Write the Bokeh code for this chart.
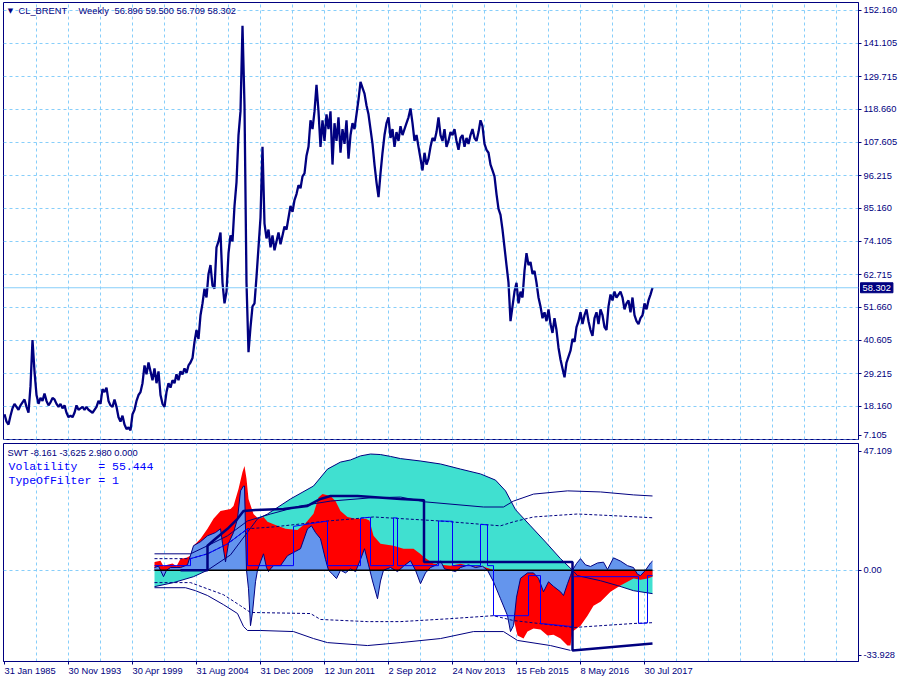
import numpy as np
from bokeh.plotting import figure
from bokeh.models import Range1d, FixedTicker, PrintfTickFormatter, Grid, Span, Label
from bokeh.layouts import column
from bokeh.embed import file_html
from bokeh.resources import INLINE

NAVY = "#000080"
GRIDC = "#87CEFA"
FONT = "Liberation Sans"
FS = "9.3px"
NB = "\u00a0"

# ---------------- data ----------------
date_bars = [0, 64, 128, 192, 256, 320, 384, 448, 512, 576, 640]
date_labels = ["31 Jan 1985", "30 Nov 1993", "30 Apr 1999", "31 Aug 2004", "31 Dec 2009",
               "12 Jun 2011", "2 Sep 2012", "24 Nov 2013", "15 Feb 2015", "8 May 2016", "30 Jul 2017"]

price_ticks = [7.105, 18.160, 29.215, 40.605, 51.660, 62.715, 74.105, 85.160, 96.215,
               107.605, 118.660, 129.715, 141.105, 152.160]

price_close = [
    15.5, 13, 12, 15, 17.5, 19, 18, 17, 18.5, 19.5,
    20.5, 18, 16, 25, 40.6, 30, 22, 19, 21, 20,
    22.5, 20, 18.5, 19.5, 21, 20.5, 19, 18, 19, 17.5,
    18.5, 16, 14.5, 15, 14.5, 16, 18.5, 17, 17.5, 18,
    17, 18, 17, 16.5, 16, 17, 18, 20, 19, 24,
    23, 24.5, 20, 18.5, 18, 20.5, 18, 14.5, 13, 15,
    12, 10.5, 11, 10, 15.5, 17, 20, 22, 23, 26,
    32, 29, 33, 30, 27, 31, 26, 30, 22, 19,
    18, 23, 26, 24.5, 27, 26, 29, 27, 30, 29,
    31, 29.5, 32, 33, 34.5, 40, 44, 41, 49, 53,
    58, 55, 63, 66, 59, 58, 72, 74, 77, 60,
    53, 57, 70, 76, 74, 86, 94, 110, 118, 147,
    120, 60, 36.5, 45, 52, 53, 62, 72, 82, 106,
    80, 75, 78, 72, 76, 71, 74, 77, 73, 76,
    79, 78, 82, 86, 84, 88, 90, 93, 92, 96,
    97, 103, 106, 115, 112, 118, 127, 118, 106, 115,
    108, 117, 112, 118, 100, 114, 108, 116, 104, 112,
    107, 115, 102, 110, 114, 112, 117, 122, 128, 126,
    124, 120, 117, 112, 107, 100, 94, 89, 97, 104,
    110, 114, 116, 109, 112, 106, 111, 108, 113, 110,
    112, 114, 116, 119, 114, 108, 110, 106, 102, 98,
    104, 100, 102, 106, 109, 108, 111, 116, 110, 108,
    112, 106, 108, 111, 110, 112, 108, 105, 109, 110,
    106, 109, 107, 110, 112, 109, 108, 111, 115, 113,
    107, 105, 104, 100, 98, 96, 90, 85, 83, 78,
    72, 66, 60, 47, 52, 57, 60, 53, 57, 55,
    64, 70, 66, 67, 63, 64, 60, 55, 52, 48,
    50, 47, 51, 46, 43, 48, 44, 38, 34, 31,
    28, 33, 35, 37, 41, 40, 45, 47, 50, 46,
    49, 51, 47, 44, 42, 48, 50, 46, 51, 49,
    45, 44, 52, 56, 54, 57, 55, 56, 57, 55,
    51, 53, 54, 50, 55, 49, 47, 46, 48, 49,
    53, 51, 54, 56, 58.302,
]
price_bar = list(range(0, 2 * len(price_close), 2))
last_close = 58.302
header_symbol = "CL_BRENT"
header_period = "Weekly"
header_ohlc = "56.896 59.500 56.709 58.302"

# SWT indicator
swt_header = "SWT -8.161 -3.625 2.980 0.000"
swt_param1 = "Volatility" + NB * 3 + "=" + NB + "55.444"
swt_param2 = "TypeOfFilter" + NB + "=" + NB + "1"
swt_top, swt_bottom = 47.109, -33.928

turq_bar = [150, 169, 189, 203, 226, 253, 263, 286, 309, 323, 336, 346, 356, 366, 376, 386, 396,
            416, 436, 456, 476, 491, 501, 511, 526, 541, 556, 568, 573, 596, 613, 629, 648]
turq_val = [-6.1, -4.6, -2.4, 0, 5.7, 19.1, 20.9, 26.5, 31.3, 37.6, 40.2, 41.0, 42.5, 43.2, 43.0, 42.3, 41.5,
            40.6, 39.5, 37.6, 35.8, 33.5, 29.5, 22.5, 16.5, 10.5, 4.3, 0, -2.0, -3.9, -5.7, -7.6, -8.7]

red_bar = [150, 156, 159, 163, 168, 172, 176, 182, 186, 189, 196, 203, 209, 216, 226, 229, 234, 238, 240,
           242, 244, 249, 254, 259, 263, 271, 281, 293, 301, 309, 314, 318, 326, 331, 336, 343, 351, 361,
           365, 369, 376, 389, 399, 409, 416, 419, 429, 436, 446, 456, 466, 479, 486, 489, 496, 504, 509,
           513, 519, 523, 529, 536, 543, 549, 556, 563, 566, 568, 576, 583, 589, 596, 606, 616, 629, 636,
           643, 648]
red_val = [3.1, 3.5, 1.5, 2.0, 2.5, 1.5, 4.3, 4.6, 5.4, 9.1, 11.7, 15.4, 19.1, 22.0, 22.8, 23.9, 30.2, 36.5, 38.7,
           34, 26.5, 20.9, 19.1, 19.8, 18.0, 16.8, 15.4, 15.0, 17.5, 21, 27.0, 28.3, 27.6, 25.7, 22.0, 19.8, 19.1, 19.1,
           18.5, 12.8, 9.8, 9.1, 8.0, 8.0, 6.0, 5.0, 2.4, 2.0, 1.7, 2.4, 1.5, 1.3, 0.5, 0, -1, -5, -18.0,
           -24.3, -25.4, -22.8, -21.7, -22.0, -24.3, -24.0, -25.4, -28.0, -28.0, -22.8, -20.6, -16.9, -13.2, -11.7,
           -8.0, -5.7, -3.1, -3.5, -3.1, -2.4]

blue_bar = [150, 154, 156, 159, 162, 166, 176, 183, 189, 196, 203, 211, 216, 218, 221, 224, 229, 233, 236, 239,
            240, 242, 244, 246, 248, 251, 253, 256, 259, 262, 264, 266, 269, 276, 283, 291, 296, 303, 307, 311,
            316, 321, 324, 328, 332, 336, 341, 346, 351, 356, 360, 364, 368, 373, 376, 379, 386, 393, 399, 406,
            411, 416, 421, 426, 432, 436, 440, 446, 451, 456, 464, 471, 478, 483, 489, 496, 503, 506, 509, 512,
            516, 523, 529, 534, 539, 544, 549, 556, 559, 563, 566, 568, 572, 576, 581, 586, 593, 599, 603, 609,
            616, 623, 629, 633, 636, 641, 646, 648]
blue_val = [1.0, 1.5, 0, -2.4, 0, 1.0, 1.0, 2.0, 9.1, 10.6, 12.8, 14.0, 15.4, 10, 3.1, 10, 14.0, 19.1, 29.5, 31.3,
            31.3, 0, -6.9, -20.6, -15.7, -4.3, 0, 3.1, 6.1, 1.0, -0.5, 0.5, 1.7, 1.7, 5.4, 7.0, 8.0, 15.4, 16.5, 14.0,
            11.7, 4.0, 0, -1.5, -3.1, 0, -1.0, 0.5, -0.5, 4.0, 8.0, 2.0, -4.0, -10.6, -4.0, 0, 1.0, -0.5, 1.5, 3.5,
            0, -5.0, -1.0, 1.0, 2.0, 3.5, 0.5, 0, -0.5, 1.0, 2.0, 1.0, 1.5, 0, -4.3, -10.6, -16.9, -22.8, -20.6, -10,
            -3, -1, -1, -3, -8, -4.3, -6, -8, -9.4, -5, -2, 0, 2.5, 4.3, 2.0, 1.4, 2.7, 3.0, 0.3, 4.6,
            3.4, 1.7, 1.0, -1.5, -2.0, 0, 2.7, 3.4]

level_bar = [176, 203, 203, 211, 223, 233, 239, 251, 279, 303, 316, 326, 353, 396, 419.5, 419.5, 568, 568, 648]
level_val = [0, 0, 9.1, 11.7, 15.4, 19.1, 22.0, 22.4, 22.8, 23.9, 26.5, 27.6, 27.6, 26.5, 26.0, 3.1, 3.1, -29.8, -27.2]

up_bar = [150, 186, 203, 223, 243, 266, 296, 326, 366, 396, 421, 479, 499, 509, 529, 563, 596, 629, 648]
up_val = [6.1, 6.1, 9.1, 12.8, 18.3, 20.9, 23.9, 25.7, 26.9, 27.2, 25.4, 23.5, 23.5, 25.7, 28.3, 29.5, 29.1, 28.0, 27.6]

upd_bar = [150, 186, 203, 223, 243, 269, 323, 349, 369, 436, 496, 509, 529, 573, 613, 648]
upd_val = [4.3, 4.3, 6.1, 9.8, 15.4, 16.1, 18.3, 19.1, 19.8, 18.3, 16.5, 18.0, 19.8, 20.9, 20.2, 19.5]

dnd_bar = [150, 186, 219, 236, 246, 306, 316, 363, 396, 446, 489, 509, 569, 629, 648]
dnd_val = [-4.6, -4.6, -9.1, -13.2, -15.7, -16.1, -18.3, -19.1, -19.1, -18.0, -16.9, -18.7, -21.3, -19.8, -19.5]

dn_bar = [150, 181, 191, 203, 219, 233, 239, 243, 256, 289, 309, 323, 363, 396, 436, 469, 499, 513, 546, 566]
dn_val = [-6.5, -6.5, -7.6, -9.4, -12.8, -16.1, -20.9, -22.4, -22.4, -22.8, -25.4, -26.9, -28.0, -26.9, -25.4,
          -22.8, -22.8, -26.1, -28.0, -29.8]

sig_bar = [150, 186, 186, 203, 223, 243, 243, 289, 289, 323, 323, 356, 356, 366, 366, 389, 389, 393, 393,
           434, 434, 448, 448, 476, 476, 483, 483, 489, 489, 524, 524, 536, 536, 569, 569, 634, 634, 643, 643, 648]
sig_val = [1.7, 1.7, 4.3, 6.1, 9.8, 15.4, 1.7, 1.7, 16.3, 18.3, 1.7, 1.7, 19.4, 19.7, 1.7, 1.7, 19.5, 19.4, 1.7,
           1.7, 18.3, 18.2, 1.7, 1.7, 17.0, 16.9, 1.7, 1.7, -16.9, -16.9, -2.0, -2.0, -19.8, -21.0, -2.4, -2.4,
           -19.8, -19.6, -2.0, -2.0]

zero_bar = [150, 648]
zero_val = [0, 0]

X_START, X_END = -1, 854
grid_bars = list(range(32, X_END, 32))
FRAME_W = 855


def style_axis(ax):
    ax.axis_line_color = NAVY
    ax.major_tick_line_color = NAVY
    ax.major_tick_out = 3
    ax.major_tick_in = 0
    ax.minor_tick_line_color = None
    ax.major_label_text_color = NAVY
    ax.major_label_text_font = FONT
    ax.major_label_text_font_size = FS
    ax.major_label_standoff = 2


def common(p):
    p.outline_line_color = NAVY
    p.outline_line_width = 1
    p.grid.visible = False
    p.background_fill_color = "white"
    p.border_fill_color = "white"


# ---------------- main panel ----------------
p1 = figure(frame_width=FRAME_W, frame_height=437, x_range=Range1d(X_START, X_END), y_range=Range1d(6.94, 154.86),
            x_axis_location=None, y_axis_location="right", output_backend="svg", toolbar_location=None,
            min_border_left=3, min_border_right=40, min_border_top=2, min_border_bottom=2)
common(p1)
ax = p1.yaxis[0]
axis_ticks = [8.46] + price_ticks[1:]
ax.ticker = FixedTicker(ticks=axis_ticks)
ax.formatter = PrintfTickFormatter(format="%.3f")
ax.major_label_overrides = {8.46: "%.3f" % price_ticks[0]}
style_axis(ax)
p1.add_layout(Grid(dimension=0, ticker=FixedTicker(ticks=grid_bars), grid_line_color=GRIDC, grid_line_dash="3 3"))
p1.add_layout(Grid(dimension=1, ticker=FixedTicker(ticks=price_ticks), grid_line_color=GRIDC, grid_line_dash="3 3"))
p1.add_layout(Span(location=last_close, dimension="width", line_color=GRIDC, line_width=1))
p1.line(price_bar, price_close, line_color=NAVY, line_width=2.3)

hdr_y = 151.9
p1.add_layout(Label(x=6, y=hdr_y, text="▼", text_font="DejaVu Sans", text_font_size="7px", text_color=NAVY,
                    text_align="center", text_baseline="middle"))
p1.add_layout(Label(x=14, y=hdr_y, text=header_symbol, text_font=FONT, text_font_size=FS, text_color=NAVY,
                    text_baseline="middle"))
p1.add_layout(Label(x=74, y=hdr_y, text=header_period, text_font=FONT, text_font_size=FS, text_color=NAVY,
                    text_baseline="middle"))
p1.add_layout(Label(x=110, y=hdr_y, text=header_ohlc, text_font=FONT, text_font_size=FS, text_color=NAVY,
                    text_baseline="middle"))
# price tag on the price scale (placed in the right side panel so it is not clipped to the frame)
p1.add_layout(Label(x=X_END, y=last_close, x_offset=2, text="%.3f" % last_close, text_font=FONT,
                    text_font_size=FS, text_color="white", text_align="left", text_baseline="middle",
                    background_fill_color=NAVY, border_line_color=NAVY, padding=2), "right")

# ---------------- SWT panel ----------------
p2 = figure(frame_width=FRAME_W, frame_height=218, x_range=p1.x_range, y_range=Range1d(swt_bottom, swt_top),
            x_axis_location="below", y_axis_location="right", output_backend="svg", toolbar_location=None,
            min_border_left=3, min_border_right=40, min_border_top=2, min_border_bottom=0)
common(p2)
ay = p2.yaxis[0]
lab_top = 44.15
lab_bot = -31.52
ay.ticker = FixedTicker(ticks=[lab_bot, 0.0, lab_top])
ay.major_label_overrides = {lab_bot: "%.3f" % swt_bottom, 0.0: "0.00", lab_top: "%.3f" % swt_top}
style_axis(ay)
axx = p2.xaxis[0]
axx.ticker = FixedTicker(ticks=date_bars)
axx.major_label_overrides = {b: t for b, t in zip(date_bars, date_labels)}
style_axis(axx)
axx.major_label_orientation = -1e-6
axx.major_label_standoff = 6

p2.add_layout(Grid(dimension=0, ticker=FixedTicker(ticks=grid_bars), grid_line_color=GRIDC, grid_line_dash="3 3"))
p2.add_layout(Grid(dimension=1, ticker=FixedTicker(ticks=[0.0]), grid_line_color=GRIDC, grid_line_dash="3 3"))

p2.varea(x=turq_bar, y1=0, y2=turq_val, fill_color="#40E0D0")
p2.varea(x=red_bar, y1=0, y2=red_val, fill_color="#FF0000")
p2.varea(x=blue_bar, y1=0, y2=blue_val, fill_color="#6495ED")
p2.line(turq_bar, turq_val, line_color=NAVY, line_width=1)
p2.line(blue_bar, blue_val, line_color=NAVY, line_width=1)
p2.line(zero_bar, zero_val, line_color="black", line_width=1.5)
p2.line(up_bar, up_val, line_color=NAVY, line_width=1)
p2.line(dn_bar, dn_val, line_color=NAVY, line_width=1)
p2.line(upd_bar, upd_val, line_color=NAVY, line_width=1, line_dash="3 2")
p2.line(dnd_bar, dnd_val, line_color=NAVY, line_width=1, line_dash="3 2")
p2.line(sig_bar, sig_val, line_color="#0000FF", line_width=1)
p2.line(level_bar, level_val, line_color=NAVY, line_width=2.5)

p2.add_layout(Label(x=3, y=43.5, text=swt_header, text_font=FONT, text_font_size=FS, text_color=NAVY,
                    text_baseline="middle"))
p2.add_layout(Label(x=4, y=38.5, text=swt_param1, text_font="Liberation Mono", text_font_size="11.5px",
                    text_color="#0000FF", text_baseline="middle"))
p2.add_layout(Label(x=4, y=33.2, text=swt_param2, text_font="Liberation Mono", text_font_size="11.5px",
                    text_color="#0000FF", text_baseline="middle"))

layout = column(p1, p2, spacing=0)
open("out.html", "w").write(file_html(layout, INLINE))
